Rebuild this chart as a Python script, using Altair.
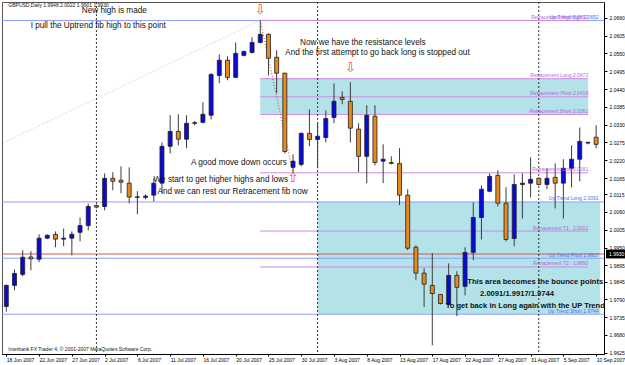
import json
import altair as alt
import pandas as pd

# ---------------- data (GBPUSD daily, 18 Jun 2007 .. 10 Sep 2007, incl. Sunday bars) -------------
bar_index = list(range(73))
opens = [1.9768, 1.9833, 1.9867, 1.9921, 1.9914, 1.9979, 1.9991, 1.9976, 1.9979, 1.9997,
         2.0018, 2.0080, 2.0077, 2.0164, 2.0158, 2.0149, 2.0107, 2.0105, 2.0112, 2.0149,
         2.0263, 2.0309, 2.0285, 2.0334, 2.0337, 2.0359, 2.0482, 2.0529, 2.0476, 2.0544,
         2.0553, 2.0584, 2.0609, 2.0538, 2.0489, 2.0198, 2.0207, 2.0303, 2.0284, 2.0290,
         2.0352, 2.0414, 2.0402, 2.0316, 2.0232, 2.0356, 2.0217, 2.0213, 2.0210, 2.0112,
         1.9951, 1.9871, 1.9833, 1.9805, 1.9774, 1.9864, 1.9830, 1.9935, 2.0043, 2.0124,
         2.0173, 2.0087, 1.9978, 2.0145, 2.0149, 2.0164, 2.0145, 2.0167, 2.0149, 2.0195,
         2.0223, 2.0273, 2.0291]
highs = [1.9836, 1.9882, 1.9942, 1.9939, 1.9991, 1.9991, 2.0000, 2.0009, 2.0000, 2.0043,
         2.0086, 2.0083, 2.0179, 2.0183, 2.0201, 2.0198, 2.0124, 2.0115, 2.0164, 2.0275,
         2.0359, 2.0362, 2.0359, 2.0341, 2.0399, 2.0489, 2.0547, 2.0541, 2.0584, 2.0559,
         2.0600, 2.0652, 2.0612, 2.0560, 2.0490, 2.0238, 2.0306, 2.0377, 2.0334, 2.0374,
         2.0457, 2.0433, 2.0461, 2.0334, 2.0390, 2.0390, 2.0269, 2.0232, 2.0257, 2.0130,
         1.9957, 1.9886, 1.9933, 1.9806, 1.9901, 1.9877, 1.9951, 2.0090, 2.0142, 2.0179,
         2.0189, 2.0136, 2.0176, 2.0179, 2.0229, 2.0167, 2.0195, 2.0210, 2.0223, 2.0266,
         2.0321, 2.0278, 2.0328]
lows = [1.9752, 1.9818, 1.9861, 1.9880, 1.9905, 1.9976, 1.9951, 1.9954, 1.9926, 1.9969,
        2.0003, 2.0071, 2.0065, 2.0127, 2.0118, 2.0087, 2.0053, 2.0099, 2.0093, 2.0118,
        2.0241, 2.0266, 2.0257, 2.0328, 2.0334, 2.0346, 2.0458, 2.0467, 2.0474, 2.0541,
        2.0550, 2.0581, 2.0482, 2.0427, 2.0241, 2.0181, 2.0201, 2.0263, 2.0195, 2.0275,
        2.0334, 2.0393, 2.0275, 2.0183, 2.0149, 2.0204, 2.0149, 2.0207, 2.0081, 1.9942,
        1.9849, 1.9766, 1.9648, 1.9774, 1.9771, 1.9738, 1.9802, 1.9911, 1.9975, 2.0121,
        2.0077, 1.9969, 1.9954, 2.0040, 2.0105, 2.0142, 2.0130, 2.0071, 2.0040, 2.0136,
        2.0155, 2.0269, 2.0257]
closes = [1.9833, 1.9870, 1.9920, 1.9915, 1.9979, 1.9988, 1.9976, 1.9979, 1.9991, 2.0018,
          2.0077, 2.0075, 2.0164, 2.0155, 2.0152, 2.0106, 2.0105, 2.0109, 2.0149, 2.0263,
          2.0309, 2.0285, 2.0334, 2.0336, 2.0362, 2.0485, 2.0529, 2.0476, 2.0550, 2.0556,
          2.0584, 2.0609, 2.0535, 2.0489, 2.0247, 2.0217, 2.0303, 2.0284, 2.0294, 2.0349,
          2.0402, 2.0408, 2.0319, 2.0232, 2.0359, 2.0213, 2.0223, 2.0210, 2.0112, 1.9948,
          1.9871, 1.9837, 1.9808, 1.9777, 1.9864, 1.9827, 1.9935, 2.0043, 2.0130, 2.0170,
          2.0087, 1.9975, 2.0145, 2.0149, 2.0161, 2.0145, 2.0164, 2.0149, 2.0195, 2.0223,
          2.0278, 2.0275, 2.0269]

x_tick_idx = list(range(0, 73, 4))
x_tick_labels = ["18 Jun 2007", "22 Jun 2007", "27 Jun 2007", "2 Jul 2007", "6 Jul 2007",
                 "11 Jul 2007", "16 Jul 2007", "20 Jul 2007", "25 Jul 2007", "30 Jul 2007",
                 "3 Aug 2007", "8 Aug 2007", "13 Aug 2007", "17 Aug 2007", "22 Aug 2007",
                 "27 Aug 2007", "31 Aug 2007", "5 Sep 2007", "10 Sep 2007"]
y_ticks = [2.0660, 2.0605, 2.0550, 2.0495, 2.0440, 2.0385, 2.0330, 2.0275, 2.0220, 2.0165,
           2.0115, 2.0060, 2.0005, 1.9950, 1.9895, 1.9845, 1.9790, 1.9735, 1.9680, 1.9625]

month_separators = [11, 38, 65]          # 1 Jul, 1 Aug, 2 Sep

# Up-trend fibonacci (from 1.9182 low to 2.0652 high)
uptrend_levels = [2.0652, 2.0091, 1.9917, 1.9744]
uptrend_names = ["Up Trend High  2.0652", "Up Trend Long   2.0091",
                 "Up Trend Pivot   1.9917", "Up Trend Short   1.9744"]
uptrend_line_x = [-90.9, 31]
uptrend_line_p = [1.9182, 2.0652]

# Retracement fibonacci (from 2.0652 high to 2.0181 low)
retr_levels = [2.0652, 2.0472, 2.0416, 2.0361, 2.0181, 2.0001, 1.9890]
retr_names = ["Retracement High  2.0652", "Retracement Long   2.0472",
              "Retracement Pivot   2.0416", "Retracement Short   2.0361",
              "Retracement Low   2.0181", "Retracement   T1  :  2.0001",
              "Retracement   T2  :  1.9890"]
retr_line_x = [31, 35]
retr_line_p = [2.0652, 2.0181]
retr_start, retr_end = 31, 71.03

bid_price = 1.9930

zone_x0 = [31, 38]
zone_x1 = [71.03, 72.5]
zone_top = [2.0472, 2.0091]
zone_bot = [2.0361, 1.9744]

notes = ["New high is made", "I pull the Uptrend fib high to this point",
         "Now we have the resistance levels",
         "And the first attempt to go back long is stopped out",
         "A good move down occurs", "We start to get higher highs and lows",
         "And we can rest our Retracement fib now"]
notes_x = [9.21, 2.97, 35.86, 34.06, 22.53, 17.97, 18.45]
notes_p = [2.0680, 2.0634, 2.0581, 2.0550, 2.0211, 2.0158, 2.0121]

bold_notes = ["This area becomes the bounce points", "2.0091/1.9917/1.9744",
              "To get back in Long again with the UP Trend"]
bold_x = [56.27, 57.83, 53.63]
bold_p = [1.9843, 1.9806, 1.9769]

arrows = ["⇩", "⇩", "⇧"]
arrows_x = [31, 42, 35]
arrows_p = [2.0684, 2.0504, 2.0164]

small_texts = ["GBPUSD,Daily  1.9948 2.0022 1.9901 1.9930",
               "Interbank FX Trader 4, © 2001-2007 MetaQuotes Software Corp."]
small_x = [0.25, 0.25]
small_p = [2.0700, 1.9635]

# ---------------- chart -------------
X_DOMAIN = [0.084, 72.35]
Y_DOMAIN = [1.9621, 2.0709]
xs = alt.Scale(domain=X_DOMAIN, nice=False, zero=False)
ys = alt.Scale(domain=Y_DOMAIN, nice=False, zero=False)
FONT = "Liberation Sans"

label_expr = json.dumps(x_tick_labels) + "[round(datum.value / 4)]"
x_axis = alt.Axis(values=x_tick_idx, labelExpr=label_expr, orient="bottom", title=None,
                  grid=False, labelAlign="left", labelBaseline="top", labelFont=FONT,
                  labelFontSize=5, labelColor="black", labelPadding=1, tickSize=2,
                  tickColor="black", domainColor="black", labelFlush=False,
                  labelOverlap=False, labelBound=False)
y_axis = alt.Axis(values=y_ticks, format=".4f", orient="right", title=None, grid=False,
                  labelFont=FONT, labelFontSize=5, labelColor="black", labelPadding=2,
                  tickSize=3, tickColor="black", domainColor="black", labelFlush=False,
                  labelOverlap=False, labelBound=False)


def X(field):
    return alt.X(field, type="quantitative", scale=xs, axis=x_axis)


def Y(field):
    return alt.Y(field, type="quantitative", scale=ys, axis=y_axis)


candles = pd.DataFrame({"i": bar_index, "o": opens, "h": highs, "l": lows, "c": closes})
candles["dir"] = ["up" if c >= o else "down" for o, c in zip(opens, closes)]

zones = pd.DataFrame({"x0": zone_x0, "x1": zone_x1, "top": zone_top, "bot": zone_bot})
zone_layer = alt.Chart(zones).mark_rect(color="#b3e2e8", clip=True).encode(
    x=X("x0"), x2="x1", y=Y("top"), y2="bot")

up_df = pd.DataFrame({"p": uptrend_levels, "name": uptrend_names, "xr": [72.3] * 4})
up_lines = alt.Chart(up_df).mark_rule(color="#8f9dff", strokeWidth=1).encode(y=Y("p"))
up_labels = alt.Chart(up_df).mark_text(align="right", baseline="bottom", dy=-0.5,
                                       font=FONT, fontSize=5, color="#4d6cf0").encode(
    x=X("xr"), y=Y("p"), text="name:N")

retr_df = pd.DataFrame({"p": retr_levels, "name": retr_names,
                        "x0": [retr_start] * len(retr_levels),
                        "x1": [retr_end] * len(retr_levels)})
retr_lines = alt.Chart(retr_df).mark_rule(color="#cc8ae2", strokeWidth=1, clip=True).encode(
    x=X("x0"), x2="x1", y=Y("p"))
retr_labels = alt.Chart(retr_df).mark_text(align="right", baseline="bottom", dy=-0.5,
                                           font=FONT, fontSize=5, color="#b266d8").encode(
    x=X("x1"), y=Y("p"), text="name:N")

bid_df = pd.DataFrame({"p": [bid_price]})
bid_line = alt.Chart(bid_df).mark_rule(color="#c85a5a", strokeWidth=1).encode(y=Y("p"))

sep_df = pd.DataFrame({"i": month_separators})
sep_layer = alt.Chart(sep_df).mark_rule(color="#333333", strokeDash=[2, 2],
                                        strokeWidth=1).encode(x=X("i"))

tl_df = pd.DataFrame({"x": uptrend_line_x, "p": uptrend_line_p})
tl_layer = alt.Chart(tl_df).mark_line(color="#c4c4c4", strokeDash=[1, 2], strokeWidth=1,
                                      clip=True).encode(x=X("x"), y=Y("p"))
rl_df = pd.DataFrame({"x": retr_line_x, "p": retr_line_p})
rl_layer = alt.Chart(rl_df).mark_line(color="#e83030", strokeDash=[1, 2], strokeWidth=1,
                                      clip=True).encode(x=X("x"), y=Y("p"))

wicks = alt.Chart(candles).mark_rule(color="#3c3c3c", strokeWidth=1, clip=True).encode(
    x=X("i"), y=Y("l"), y2="h")
bodies = alt.Chart(candles).mark_bar(size=4, stroke="#202020", strokeWidth=0.8,
                                     clip=True).encode(
    x=X("i"), y=Y("o"), y2="c",
    color=alt.Color("dir:N", scale=alt.Scale(domain=["up", "down"],
                                             range=["#0a0ad6", "#e8891f"]), legend=None))

notes_df = pd.DataFrame({"x": notes_x, "p": notes_p, "t": notes})
notes_layer = alt.Chart(notes_df).mark_text(align="left", baseline="middle", font=FONT,
                                            fontSize=8.2, color="#111111").encode(
    x=X("x"), y=Y("p"), text="t:N")

bold_df = pd.DataFrame({"x": bold_x, "p": bold_p, "t": bold_notes})
bold_layer = alt.Chart(bold_df).mark_text(align="left", baseline="middle", font=FONT,
                                          fontSize=7.6, fontWeight="bold",
                                          color="#111111").encode(
    x=X("x"), y=Y("p"), text="t:N")

arr_df = pd.DataFrame({"x": arrows_x, "p": arrows_p, "t": arrows})
arr_layer = alt.Chart(arr_df).mark_text(align="center", baseline="middle",
                                        font="DejaVu Sans", fontSize=13,
                                        color="#f04646").encode(
    x=X("x"), y=Y("p"), text="t:N")

small_df = pd.DataFrame({"x": small_x, "p": small_p, "t": small_texts})
small_layer = alt.Chart(small_df).mark_text(align="left", baseline="middle", font=FONT,
                                            fontSize=5, color="#111111").encode(
    x=X("x"), y=Y("p"), text="t:N")

box_df = pd.DataFrame({"top": [bid_price + 0.00135], "bot": [bid_price - 0.00135],
                       "p": [bid_price], "t": ["1.9930"]})
box_layer = alt.Chart(box_df).mark_rect(color="#000000", clip=False).encode(
    x=alt.value(604), x2=alt.value(623), y=Y("top"), y2="bot")
box_text = alt.Chart(box_df).mark_text(align="left", baseline="middle", font=FONT,
                                       fontSize=5, color="white", clip=False).encode(
    x=alt.value(607), y=Y("p"), text="t:N")

chart = alt.layer(
    zone_layer, tl_layer, up_lines, retr_lines, bid_line, sep_layer, rl_layer,
    wicks, bodies, up_labels, retr_labels, notes_layer, bold_layer, arr_layer,
    small_layer, box_layer, box_text
).properties(
    width=602, height=352,
    autosize=alt.AutoSizeParams(type="none"),
    padding={"left": 2, "top": 2, "right": 21, "bottom": 11},
    background="white",
).configure_view(stroke="#555555", strokeWidth=1)

chart.save("out.html", embed_options={"renderer": "svg", "actions": False})
